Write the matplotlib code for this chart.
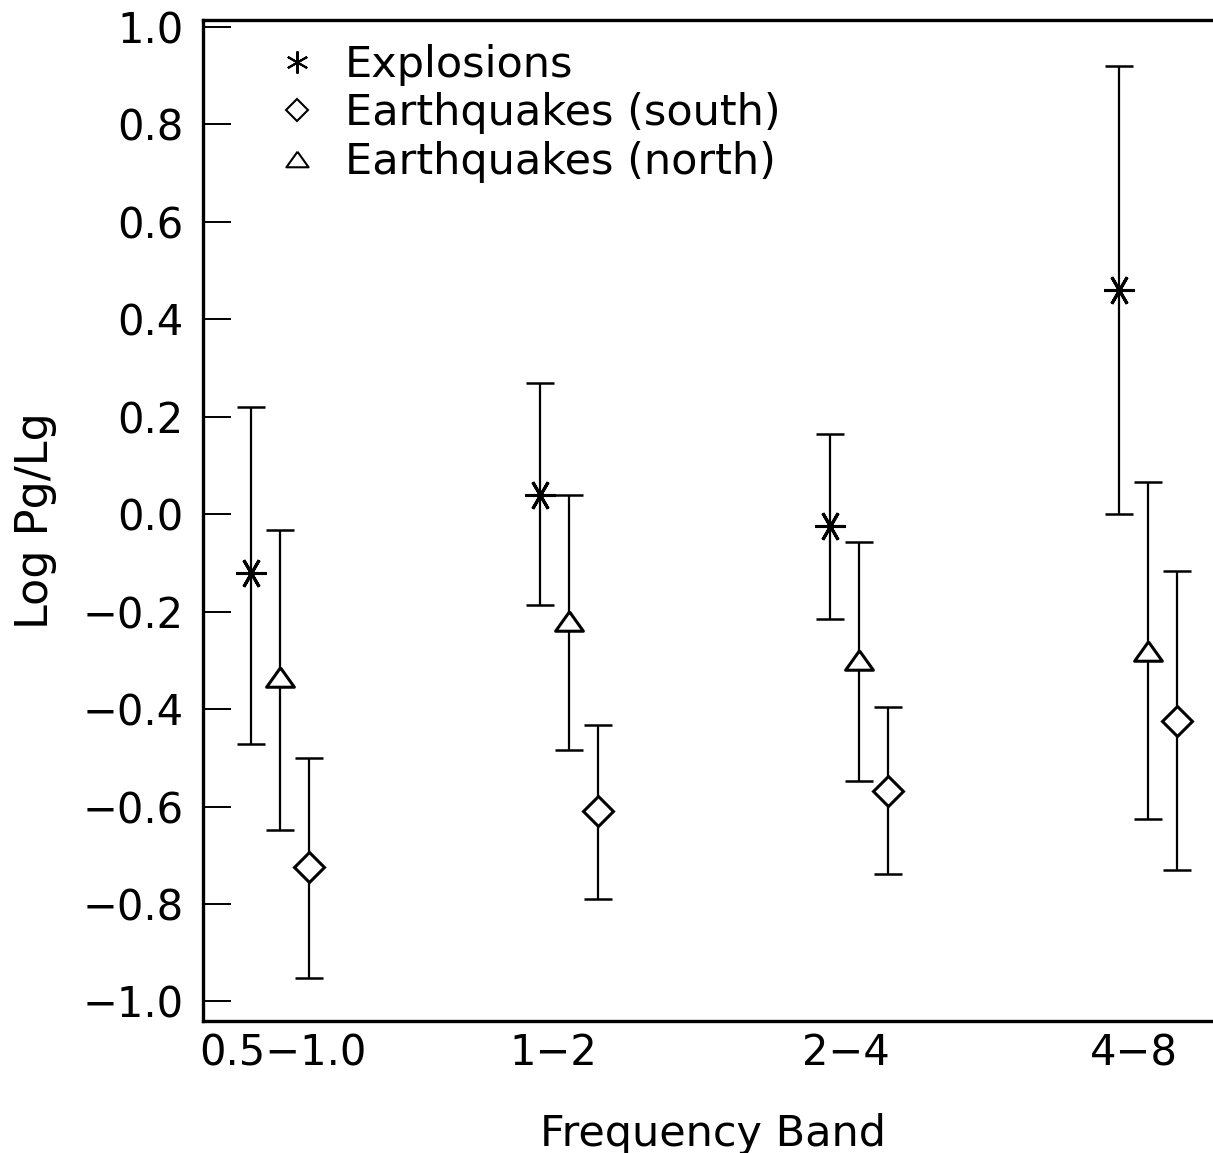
import numpy as np
import matplotlib.pyplot as plt
from matplotlib.lines import Line2D

# frequency bands
bands = ['0.5\u22121.0', '1\u22122', '2\u22124', '4\u22128']

# Log Pg/Lg: centre value, upper and lower bar ends
expl = [-0.12, 0.04, -0.025, 0.46]
expl_hi = [0.22, 0.27, 0.165, 0.92]
expl_lo = [-0.472, -0.187, -0.215, 0.0]

north = [-0.335, -0.22, -0.30, -0.28]
north_hi = [-0.033, 0.04, -0.057, 0.066]
north_lo = [-0.648, -0.485, -0.548, -0.625]

south = [-0.725, -0.61, -0.568, -0.425]
south_hi = [-0.50, -0.433, -0.396, -0.117]
south_lo = [-0.952, -0.79, -0.738, -0.73]

plt.rcParams['font.family'] = ['DejaVu Sans']
FS = 30

fig = plt.figure(figsize=(12.13, 11.53), dpi=100)
ax = fig.add_axes([0.1674, 0.1145, 0.84, 0.8682])

x = np.arange(1, len(bands) + 1)
tri = [(0, 0.7), (-1, -0.7), (1, -0.7), (0, 0.7)]

def draw(xpos, y, hi, lo, marker, ms):
    y = np.array(y)
    err = [y - np.array(lo), np.array(hi) - y]
    ax.errorbar(xpos, y, yerr=err, fmt='none', ecolor='black', elinewidth=1.6,
                capsize=10, capthick=1.8)
    ax.plot(xpos, y, linestyle='none', marker=marker, ms=ms, mfc='white',
            mec='black', mew=2.2)

draw(x - 0.1, expl, expl_hi, expl_lo, (6, 2, 30), 22)
draw(x, north, north_hi, north_lo, tri, 20)
draw(x + 0.1, south, south_hi, south_lo, 'D', 15)

ax.set_xlim(0.734, 4.255)
ax.set_ylim(-1.04, 1.014)
ax.set_yticks(np.arange(-1.0, 1.01, 0.2))
ax.set_yticklabels(['\u22121.0', '\u22120.8', '\u22120.6', '\u22120.4', '\u22120.2',
                    '0.0', '0.2', '0.4', '0.6', '0.8', '1.0'])
ax.set_xticks([1.01, 1.945, 2.955, 3.95])
ax.set_xticklabels(bands)
ax.tick_params(axis='y', direction='in', length=20, width=1.4, labelsize=FS, pad=14)
ax.tick_params(axis='x', length=0, labelsize=FS, pad=8)
for s in ['left', 'bottom', 'top']:
    ax.spines[s].set_linewidth(2.4)
ax.spines['right'].set_visible(False)

ax.set_xlabel('Frequency Band', fontsize=FS + 1, labelpad=28)
ax.set_ylabel('Log Pg/Lg', fontsize=FS + 2, labelpad=18)

handles = [
    Line2D([], [], linestyle='none', marker=(6, 2, 0), ms=16, mec='black', mew=1.5),
    Line2D([], [], linestyle='none', marker='D', ms=11, mfc='white', mec='black', mew=1.5),
    Line2D([], [], linestyle='none', marker=tri, ms=16, mfc='white', mec='black', mew=1.5),
]
ax.legend(handles, ['Explosions', 'Earthquakes (south)', 'Earthquakes (north)'],
          loc='upper left', bbox_to_anchor=(0.0707, 0.976), frameon=False, fontsize=FS + 1,
          handlelength=1.0, handletextpad=0.62, labelspacing=0.15, borderaxespad=0,
          borderpad=0)

fig.savefig('out.png', dpi=100)
